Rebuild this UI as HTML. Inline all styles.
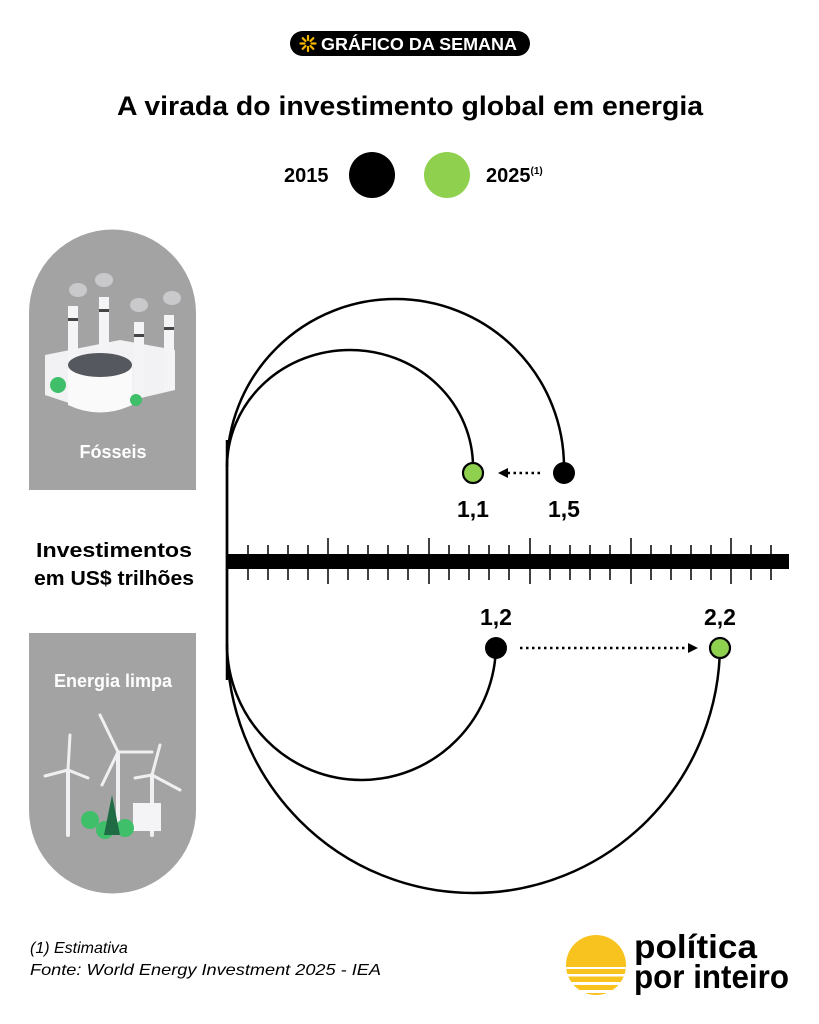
<!DOCTYPE html>
<html><head><meta charset="utf-8"><style>
body{margin:0;background:#fff;}
svg{display:block;}
text{font-family:"Liberation Sans",sans-serif;}
</style></head><body>
<svg width="819" height="1024" viewBox="0 0 819 1024" xmlns="http://www.w3.org/2000/svg">
<rect width="819" height="1024" fill="#fff"/>
<!-- badge -->
<rect x="290" y="31" width="240" height="25" rx="12.5" fill="#000"/>
<g stroke="#f5b800" stroke-width="2.2" stroke-linecap="round">
<line x1="308" y1="36" x2="308" y2="40"/><line x1="308" y1="47" x2="308" y2="51"/>
<line x1="300.5" y1="43.5" x2="304.5" y2="43.5"/><line x1="311.5" y1="43.5" x2="315.5" y2="43.5"/>
<line x1="302.7" y1="38.2" x2="305.5" y2="41"/><line x1="310.5" y1="46" x2="313.3" y2="48.8"/>
<line x1="313.3" y1="38.2" x2="310.5" y2="41"/><line x1="305.5" y1="46" x2="302.7" y2="48.8"/>
</g>
<text x="321" y="50" font-size="17.5" font-weight="bold" fill="#fff" textLength="196" lengthAdjust="spacingAndGlyphs">GRÁFICO DA SEMANA</text>
<text x="410" y="115" font-size="27" font-weight="bold" text-anchor="middle" fill="#000" textLength="586" lengthAdjust="spacingAndGlyphs">A virada do investimento global em energia</text>
<!-- legend -->
<text x="284" y="182" font-size="20" font-weight="bold">2015</text>
<circle cx="372" cy="175" r="23" fill="#000"/>
<circle cx="447" cy="175" r="23" fill="#8fd14f"/>
<text x="486" y="182" font-size="20" font-weight="bold">2025<tspan font-size="10" dy="-8">(1)</tspan></text>

<!-- fossil panel -->
<path d="M29,490 V313 A83.5,83.5 0 0 1 196,313 V490 Z" fill="#a3a3a3"/>
<g>
<ellipse cx="78" cy="290" rx="9" ry="7" fill="#c9c9cc"/><ellipse cx="104" cy="280" rx="9" ry="7" fill="#c9c9cc"/>
<ellipse cx="139" cy="305" rx="9" ry="7" fill="#c9c9cc"/><ellipse cx="172" cy="298" rx="9" ry="7" fill="#c9c9cc"/>
<polygon points="45,355 120,340 175,350 175,390 90,410 45,395" fill="#f2f2f4"/>
<rect x="68" y="306" width="10" height="80" fill="#f4f4f6"/><rect x="99" y="297" width="10" height="80" fill="#f4f4f6"/>
<rect x="134" y="322" width="10" height="75" fill="#f4f4f6"/><rect x="164" y="315" width="10" height="75" fill="#f4f4f6"/>
<rect x="68" y="318" width="10" height="3" fill="#444"/><rect x="99" y="309" width="10" height="3" fill="#444"/>
<rect x="134" y="334" width="10" height="3" fill="#444"/><rect x="164" y="327" width="10" height="3" fill="#444"/>
<path d="M68,368 Q100,350 132,368 V405 Q100,420 68,405 Z" fill="#fafafa"/>
<ellipse cx="100" cy="365" rx="32" ry="12" fill="#55585e"/>
<circle cx="58" cy="385" r="8" fill="#3fbf6a"/><circle cx="136" cy="400" r="6" fill="#3fbf6a"/>
</g>
<text x="113" y="458" font-size="18" font-weight="bold" fill="#fff" text-anchor="middle">Fósseis</text>

<!-- clean panel -->
<path d="M29,633 H196 V810 A83.5,83.5 0 0 1 29,810 Z" fill="#a3a3a3"/>
<text x="113" y="687" font-size="18" font-weight="bold" fill="#fff" text-anchor="middle">Energia limpa</text>
<g stroke="#f0f0f2" stroke-linecap="round">
<line x1="68" y1="770" x2="68" y2="835" stroke-width="4"/>
<line x1="68" y1="770" x2="45" y2="776" stroke-width="3"/><line x1="68" y1="770" x2="88" y2="778" stroke-width="3"/><line x1="68" y1="770" x2="70" y2="735" stroke-width="3"/>
<line x1="118" y1="752" x2="118" y2="830" stroke-width="4"/>
<line x1="118" y1="752" x2="100" y2="715" stroke-width="3"/><line x1="118" y1="752" x2="152" y2="752" stroke-width="3"/><line x1="118" y1="752" x2="102" y2="785" stroke-width="3"/>
<line x1="152" y1="775" x2="152" y2="835" stroke-width="4"/>
<line x1="152" y1="775" x2="135" y2="778" stroke-width="3"/><line x1="152" y1="775" x2="180" y2="790" stroke-width="3"/><line x1="152" y1="775" x2="160" y2="745" stroke-width="3"/>
</g>
<rect x="133" y="803" width="28" height="28" fill="#f4f4f6"/>
<circle cx="90" cy="820" r="9" fill="#3fbf6a"/><circle cx="105" cy="830" r="9" fill="#3fbf6a"/><circle cx="125" cy="828" r="9" fill="#3fbf6a"/>
<polygon points="112,795 104,835 120,835" fill="#1e6b44"/>

<!-- axis -->
<text x="114" y="557" font-size="20" font-weight="bold" text-anchor="middle" textLength="156" lengthAdjust="spacingAndGlyphs">Investimentos</text>
<text x="114" y="585" font-size="20" font-weight="bold" text-anchor="middle" textLength="160" lengthAdjust="spacingAndGlyphs">em US$ trilhões</text>
<rect x="227" y="554" width="562" height="15" fill="#000"/>
<g stroke="#000" stroke-width="1.5">
<path d="M248,545V580M268,545V580M288,545V580M308,545V580M328,538V584M348,545V580M368,545V580M388,545V580M408,545V580M429,538V584M449,545V580M469,545V580M489,545V580M509,545V580M530,538V584M550,545V580M570,545V580M590,545V580M610,545V580M631,538V584M651,545V580M671,545V580M691,545V580M711,545V580M731,538V584M751,545V580M771,545V580"/>
</g>

<!-- arcs -->
<g fill="none" stroke="#000" stroke-width="2.5">
<path d="M227,560 V467 A168.5,168 0 0 1 564,467 V473"/>
<path d="M227,467 A123,117 0 0 1 473,467 V473"/>
<path d="M227,560 V644 A134.5,136 0 0 0 496,644 V648"/>
<path d="M227,644 A246.5,249 0 0 0 720,644 V648"/>
<path d="M227,440 V680"/>
</g>
<g stroke="#000" stroke-width="2.5" stroke-dasharray="2.5,3.5">
<line x1="540" y1="473" x2="508" y2="473"/>
<line x1="520" y1="648" x2="688" y2="648"/>
</g>
<polygon points="498,473 508,468 508,478" fill="#000"/>
<polygon points="698,648 688,643 688,653" fill="#000"/>
<circle cx="564" cy="473" r="11" fill="#000"/>
<circle cx="473" cy="473" r="10" fill="#8fd14f" stroke="#000" stroke-width="2.2"/>
<circle cx="496" cy="648" r="11" fill="#000"/>
<circle cx="720" cy="648" r="10" fill="#8fd14f" stroke="#000" stroke-width="2.2"/>
<text x="473" y="517" font-size="23" font-weight="bold" text-anchor="middle">1,1</text>
<text x="564" y="517" font-size="23" font-weight="bold" text-anchor="middle">1,5</text>
<text x="496" y="625" font-size="23" font-weight="bold" text-anchor="middle">1,2</text>
<text x="720" y="625" font-size="23" font-weight="bold" text-anchor="middle">2,2</text>

<!-- footnote -->
<text x="30" y="953" font-size="16" font-style="italic">(1) Estimativa</text>
<text x="30" y="975" font-size="16" font-style="italic" textLength="351" lengthAdjust="spacingAndGlyphs">Fonte: World Energy Investment 2025 - IEA</text>

<!-- logo -->
<clipPath id="c"><circle cx="596" cy="965" r="30"/></clipPath>
<g clip-path="url(#c)">
<rect x="560" y="930" width="80" height="80" fill="#f9c31f"/>
<g fill="#fff"><rect x="560" y="967" width="80" height="2"/><rect x="560" y="974" width="80" height="2.5"/><rect x="560" y="982" width="80" height="3"/><rect x="560" y="990" width="80" height="3"/></g>
</g>
<text x="634" y="958" font-size="33" font-weight="bold" textLength="123" lengthAdjust="spacingAndGlyphs">política</text>
<text x="634" y="988" font-size="33" font-weight="bold" textLength="155" lengthAdjust="spacingAndGlyphs">por inteiro</text>
</svg>
</body></html>
